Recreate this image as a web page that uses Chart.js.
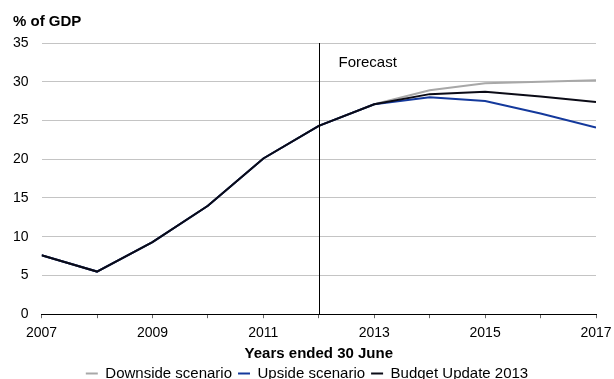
<!DOCTYPE html>
<html>
<head>
<meta charset="utf-8">
<script src="https://cdn.jsdelivr.net/npm/chart.js@4/dist/chart.umd.min.js"></script>
<style>
  html, body { margin: 0; padding: 0; background: #fff; }
  #wrap { width: 614px; height: 379px; position: relative; }
</style>
</head>
<body>
<div id="wrap"><canvas id="debt"></canvas></div>
<script>
// Net debt, years ended 30 June
const years = [2007, 2008, 2009, 2010, 2011, 2012, 2013, 2014, 2015, 2016, 2017];
const downside = [7.6, 5.5, 9.3, 14.0, 20.1, 24.3, 27.1, 28.9, 29.8, 30.0, 30.2];
const upside   = [7.6, 5.5, 9.3, 14.0, 20.1, 24.3, 27.1, 28.0, 27.5, 25.9, 24.1];
const budget   = [7.6, 5.5, 9.3, 14.0, 20.1, 24.3, 27.1, 28.4, 28.7, 28.1, 27.4];
const yTicks = [0, 5, 10, 15, 20, 25, 30, 35];
const forecastStart = 2012;

const FONT = '"Liberation Sans", Arial, sans-serif';
const TICK_SIZE = 14;
const TEXT_SIZE = 15;

const toPoints = vals => vals.map((v, i) => ({ x: years[i], y: v }));

// unit label above the value axis
const unitLabel = {
  id: 'unitLabel',
  afterDraw(chart) {
    const { ctx } = chart;
    ctx.save();
    ctx.fillStyle = '#000';
    ctx.font = 'bold ' + TEXT_SIZE + 'px ' + FONT;
    ctx.textBaseline = 'middle';
    ctx.fillText('% of GDP', 13, 22);
    ctx.restore();
  }
};

// vertical marker where the forecast period begins
const forecastLine = {
  id: 'forecastLine',
  afterDatasetsDraw(chart) {
    const { ctx, chartArea, scales } = chart;
    const x = Math.round(scales.x.getPixelForValue(forecastStart)) + 0.5;
    ctx.save();
    ctx.strokeStyle = '#000';
    ctx.lineWidth = 1;
    ctx.beginPath();
    ctx.moveTo(x, chartArea.top);
    ctx.lineTo(x, chartArea.bottom);
    ctx.stroke();
    ctx.fillStyle = '#000';
    ctx.font = TEXT_SIZE + 'px ' + FONT;
    ctx.textBaseline = 'middle';
    ctx.fillText('Forecast', x + 19, chartArea.top + 20);
    ctx.restore();
  }
};

new Chart(document.getElementById('debt'), {
  type: 'line',
  data: {
    datasets: [
      { label: 'Downside scenario', data: toPoints(downside), borderColor: '#a8a8a8', order: 2 },
      { label: 'Upside scenario', data: toPoints(upside), borderColor: '#14399c', order: 1 },
      { label: 'Budget Update 2013', data: toPoints(budget), borderColor: '#0b0b16', order: 0 }
    ].map(d => Object.assign(d, {
      borderWidth: 2,
      pointRadius: 0,
      tension: 0,
      fill: false,
      backgroundColor: d.borderColor
    }))
  },
  options: {
    responsive: true,
    maintainAspectRatio: false,
    animation: false,
    layout: { padding: { left: 0, right: 0, top: 43, bottom: -12 } },
    plugins: {
      tooltip: { enabled: false },
      legend: {
        position: 'bottom',
        labels: {
          sort: (a, b) => a.datasetIndex - b.datasetIndex,
          usePointStyle: true,
          pointStyle: 'line',
          pointStyleWidth: 12,
          boxHeight: 2,
          padding: 6,
          color: '#000',
          font: { family: FONT, size: TEXT_SIZE }
        }
      }
    },
    scales: {
      x: {
        type: 'linear',
        min: years[0],
        max: years[years.length - 1],
        // let the last year label hang closer to the edge
        afterFit: scale => { scale.paddingRight = 18; },
        border: { display: true, color: '#000', width: 1 },
        grid: { drawOnChartArea: false, drawTicks: true, tickLength: 4, color: '#666' },
        ticks: {
          stepSize: 1,
          autoSkip: false,
          maxRotation: 0,
          padding: 7,
          color: '#000',
          font: { family: FONT, size: TICK_SIZE },
          callback: v => (v % 2 === 1 ? String(v) : '')
        },
        title: {
          display: true,
          text: 'Years ended 30 June',
          color: '#000',
          font: { family: FONT, size: TEXT_SIZE, weight: 'bold' },
          padding: { top: -4, bottom: -3 }
        }
      },
      y: {
        min: 0,
        max: 35,
        afterBuildTicks: axis => { axis.ticks = yTicks.map(v => ({ value: v })); },
        border: { display: false },
        grid: { color: '#c4c4c4', lineWidth: 1, drawTicks: false },
        ticks: {
          padding: 13,
          color: '#000',
          font: { family: FONT, size: TICK_SIZE }
        }
      }
    }
  },
  plugins: [forecastLine, unitLabel]
});
</script>
</body>
</html>
